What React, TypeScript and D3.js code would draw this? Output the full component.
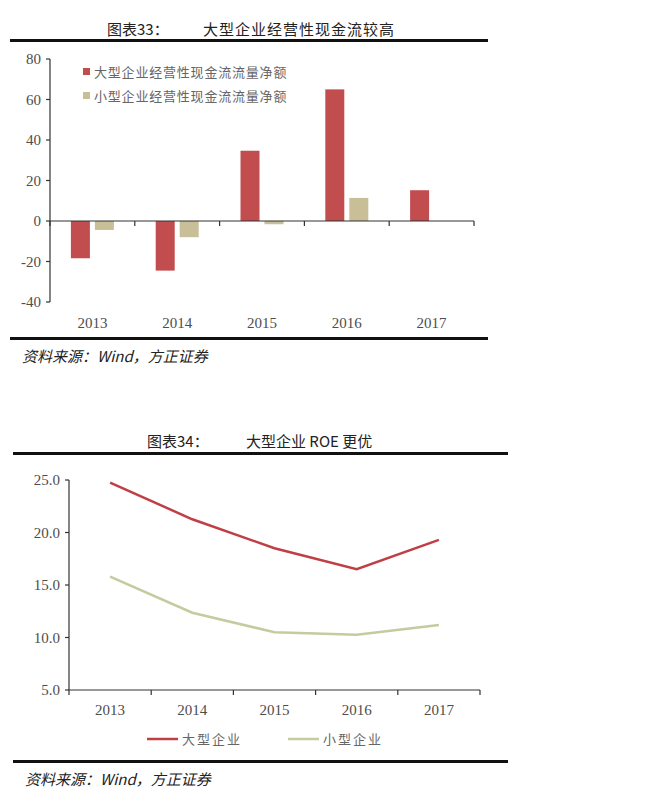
import React from "react";
import * as d3 from "d3";

const years = ["2013", "2014", "2015", "2016", "2017"];
const largeCash = [-18.4, -24.5, 34.7, 65.0, 15.2];
const smallCash = [-4.4, -8.0, -1.6, 11.4, 0];
const cashTicks = [-40, -20, 0, 20, 40, 60, 80];
const cashSeriesNames = ["大型企业经营性现金流流量净额", "小型企业经营性现金流流量净额"];

const largeROE = [24.75, 21.26, 18.5, 16.5, 19.3];
const smallROE = [15.8, 12.36, 10.5, 10.26, 11.2];
const roeTicks = [5, 10, 15, 20, 25];
const roeSeriesNames = ["大型企业", "小型企业"];

const RED_BAR = "#C24D4E";
const TAN_BAR = "#C8BF98";
const RED_LINE = "#BF3F45";
const GREEN_LINE = "#C3CC9E";
const SERIF = "'Liberation Serif', 'DejaVu Serif', serif";
const CJK = "'Noto Sans CJK SC', sans-serif";

export default function App() {
  // Chart 1
  const x1 = d3.scaleBand<string>().domain(years).range([50, 474]);
  const y1 = d3.scaleLinear().domain([-40, 80]).range([302, 59]);
  const barW = 19;
  const gap = 5;

  // Chart 2
  const x2 = d3.scaleBand<string>().domain(years).range([69, 480]);
  const y2 = d3.scaleLinear().domain([5, 25]).range([690, 480]);
  const line = d3
    .line<number>()
    .x((_, i) => (x2(years[i]) as number) + x2.bandwidth() / 2)
    .y((d) => y2(d));

  const axisColor = "#333";
  const tickText = "#4d4d4d";

  return (
    <svg
      width={650}
      height={801}
      style={{ position: "absolute", left: 0, top: 0, background: "#fff" }}
    >
      {/* ===== Chart 33 ===== */}
      <text x={107} y={35} fontFamily={CJK} fontSize={15} fill="#222">图表33：</text>
      <text x={203} y={35} fontFamily={CJK} fontSize={15} fill="#222" letterSpacing={1}>
        大型企业经营性现金流较高
      </text>
      <rect x={10} y={39} width={478} height={3} fill="#111" />

      {/* y axis */}
      <line x1={50} x2={50} y1={y1(80)} y2={y1(-40)} stroke={axisColor} strokeWidth={1.2} />
      {cashTicks.map((t) => (
        <g key={t}>
          <line x1={46} x2={50} y1={y1(t)} y2={y1(t)} stroke={axisColor} strokeWidth={1.2} />
          <text
            x={41}
            y={y1(t)}
            dy="0.35em"
            textAnchor="end"
            fontFamily={SERIF}
            fontSize={15}
            fill={tickText}
          >
            {t}
          </text>
        </g>
      ))}

      {/* bars */}
      {years.map((yr, i) => {
        const cx = (x1(yr) as number) + x1.bandwidth() / 2;
        const vL = largeCash[i];
        const vS = smallCash[i];
        return (
          <g key={yr}>
            <rect
              x={cx - gap / 2 - barW}
              y={Math.min(y1(vL), y1(0))}
              width={barW}
              height={Math.abs(y1(vL) - y1(0))}
              fill={RED_BAR}
            />
            {vS !== 0 && (
              <rect
                x={cx + gap / 2}
                y={Math.min(y1(vS), y1(0))}
                width={barW}
                height={Math.abs(y1(vS) - y1(0))}
                fill={TAN_BAR}
              />
            )}
          </g>
        );
      })}

      {/* x axis at zero */}
      <line x1={50} x2={474} y1={y1(0)} y2={y1(0)} stroke={axisColor} strokeWidth={1.2} />
      {[...years.map((yr) => x1(yr) as number), 474].map((xx, i) => (
        <line key={i} x1={xx} x2={xx} y1={y1(0)} y2={y1(0) + 5} stroke={axisColor} strokeWidth={1.2} />
      ))}
      {years.map((yr) => (
        <text
          key={yr}
          x={(x1(yr) as number) + x1.bandwidth() / 2}
          y={328}
          textAnchor="middle"
          fontFamily={SERIF}
          fontSize={15}
          fill={tickText}
        >
          {yr}
        </text>
      ))}

      {/* legend */}
      {cashSeriesNames.map((name, i) => (
        <g key={name}>
          <rect x={83} y={68 + i * 24} width={7} height={7} fill={i === 0 ? RED_BAR : TAN_BAR} />
          <text
            x={94}
            y={72 + i * 24}
            dy="0.35em"
            fontFamily={CJK}
            fontSize={13}
            letterSpacing={0.8}
            fill="#666"
          >
            {name}
          </text>
        </g>
      ))}

      <rect x={10} y={337} width={478} height={3} fill="#111" />
      <text x={22} y={362} fontFamily={CJK} fontSize={15} fontStyle="italic" fill="#222">
        资料来源：Wind，方正证券
      </text>

      {/* ===== Chart 34 ===== */}
      <text x={147} y={447} fontFamily={CJK} fontSize={15} fill="#222">图表34：</text>
      <text x={246} y={447} fontFamily={CJK} fontSize={15} fill="#222">
        大型企业 ROE 更优
      </text>
      <rect x={13} y={452} width={495} height={3} fill="#111" />

      <line x1={69} x2={69} y1={y2(25)} y2={y2(5)} stroke={axisColor} strokeWidth={1.2} />
      {roeTicks.map((t) => (
        <g key={t}>
          <line x1={65} x2={69} y1={y2(t)} y2={y2(t)} stroke={axisColor} strokeWidth={1.2} />
          <text
            x={60}
            y={y2(t)}
            dy="0.35em"
            textAnchor="end"
            fontFamily={SERIF}
            fontSize={15}
            fill={tickText}
          >
            {d3.format(".1f")(t)}
          </text>
        </g>
      ))}
      <line x1={69} x2={480} y1={y2(5)} y2={y2(5)} stroke={axisColor} strokeWidth={1.2} />
      {[...years.map((yr) => x2(yr) as number), 480].map((xx, i) => (
        <line key={i} x1={xx} x2={xx} y1={y2(5)} y2={y2(5) + 5} stroke={axisColor} strokeWidth={1.2} />
      ))}
      {years.map((yr) => (
        <text
          key={yr}
          x={(x2(yr) as number) + x2.bandwidth() / 2}
          y={715}
          textAnchor="middle"
          fontFamily={SERIF}
          fontSize={15}
          fill={tickText}
        >
          {yr}
        </text>
      ))}

      <path d={line(largeROE) || ""} fill="none" stroke={RED_LINE} strokeWidth={2.5} />
      <path d={line(smallROE) || ""} fill="none" stroke={GREEN_LINE} strokeWidth={2.5} />

      {/* legend */}
      {roeSeriesNames.map((name, i) => {
        const lx = 147 + i * 141;
        return (
          <g key={name}>
            <line x1={lx} x2={lx + 31} y1={739} y2={739} stroke={i === 0 ? RED_LINE : GREEN_LINE} strokeWidth={2.5} />
            <text
              x={lx + 35}
              y={739}
              dy="0.35em"
              fontFamily={CJK}
              fontSize={13}
              letterSpacing={2}
              fill="#666"
            >
              {name}
            </text>
          </g>
        );
      })}

      <rect x={13} y={760} width={495} height={3} fill="#111" />
      <text x={25} y={785} fontFamily={CJK} fontSize={15} fontStyle="italic" fill="#222">
        资料来源：Wind，方正证券
      </text>
    </svg>
  );
}
